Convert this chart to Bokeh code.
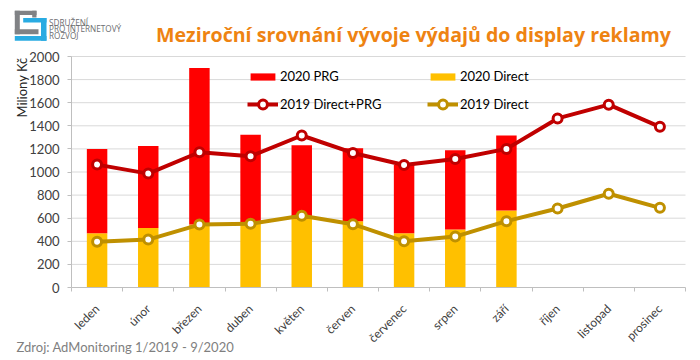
import math
from bokeh.plotting import figure
from bokeh.models import (Range1d, FixedTicker, Legend, LegendItem, Label, BoxAnnotation)
from bokeh.embed import file_html
from bokeh.resources import INLINE

# ---- data ----
months = ["leden", "únor", "březen", "duben", "květen", "červen", "červenec",
          "srpen", "září", "říjen", "listopad", "prosinec"]
direct_2020 = [470, 516, 545, 550, 595, 574, 470, 502, 667]
prg_2020 = [730, 710, 1355, 772, 637, 632, 591, 687, 649]
total_2019 = [1064, 986, 1171, 1137, 1316, 1165, 1061, 1113, 1200, 1464, 1583, 1391]
direct_2019 = [397, 415, 545, 551, 621, 548, 400, 441, 574, 684, 812, 690]
y_ticks = [0, 200, 400, 600, 800, 1000, 1200, 1400, 1600, 1800, 2000]

x_all = list(range(len(months)))
x_2020 = list(range(len(direct_2020)))
top_2020 = [d + p for d, p in zip(direct_2020, prg_2020)]

RED = "#FF0000"
YELLOW = "#FFC000"
DARKRED = "#C00000"
GOLD = "#BF9000"
AXIS = "#BFBFBF"
FONT = "Lato"

# ---- layout: the frame covers the whole canvas; axes are fixed inside it ----
W, H = 692, 356
PLOT_L, PLOT_R = 71, 685      # canvas px of the category axis ends
PLOT_T, PLOT_B = 56, 287      # canvas px of y = max and y = 0
n = len(months)
xmin, xmax = -0.5, n - 0.5
ymin, ymax = 0, 2000
ux = (PLOT_R - PLOT_L) / (xmax - xmin)
uy = (PLOT_B - PLOT_T) / (ymax - ymin)

p = figure(width=W, height=H, output_backend="svg", toolbar_location=None,
           x_range=Range1d(xmin - PLOT_L / ux, xmax + (W - PLOT_R) / ux),
           y_range=Range1d(ymin - (H - PLOT_B) / uy, ymax + PLOT_T / uy),
           min_border=0, min_border_left=0, min_border_right=0,
           min_border_top=0, min_border_bottom=0)
p.outline_line_color = None
p.background_fill_color = "white"
p.border_fill_color = "white"
p.grid.visible = False

# horizontal gridlines limited to the plot area
p.segment(x0=[xmin] * (len(y_ticks) - 1), x1=[xmax] * (len(y_ticks) - 1),
          y0=y_ticks[1:], y1=y_ticks[1:], line_color="#D9D9D9", line_width=1)

# y axis
p.yaxis.fixed_location = xmin
p.yaxis.bounds = (ymin, ymax)
p.yaxis.ticker = FixedTicker(ticks=y_ticks)
p.yaxis.axis_line_color = AXIS
p.yaxis.major_tick_line_color = AXIS
p.yaxis.major_tick_out = 4
p.yaxis.major_tick_in = 0
p.yaxis.minor_tick_line_color = None
p.yaxis.major_label_standoff = 8
p.yaxis.major_label_text_font = FONT
p.yaxis.major_label_text_font_size = "13px"
p.yaxis.major_label_text_color = "#404040"

# x axis
p.xaxis.fixed_location = ymin
p.xaxis.bounds = (xmin, xmax)
p.xaxis.ticker = FixedTicker(ticks=x_all, minor_ticks=[i - 0.5 for i in range(n + 1)])
p.xaxis.major_label_overrides = {i: m for i, m in enumerate(months)}
p.xaxis.axis_line_color = AXIS
p.xaxis.major_tick_line_color = None
p.xaxis.minor_tick_line_color = AXIS
p.xaxis.minor_tick_out = 4
p.xaxis.minor_tick_in = 0
p.xaxis.major_label_orientation = math.pi / 4
p.xaxis.major_label_standoff = 13
p.xaxis.major_label_text_font = FONT
p.xaxis.major_label_text_font_size = "12px"
p.xaxis.major_label_text_color = "#404040"

# bars
r_direct = p.vbar(x=x_2020, top=direct_2020, bottom=0, width=0.4, fill_color=YELLOW, line_color=None)
r_prg = p.vbar(x=x_2020, top=top_2020, bottom=direct_2020, width=0.4, fill_color=RED, line_color=None)

# lines
l_d = p.line(x_all, direct_2019, line_color=GOLD, line_width=4)
s_d = p.scatter(x_all, direct_2019, size=9, marker="circle", fill_color="white", line_color=GOLD, line_width=3)
l_t = p.line(x_all, total_2019, line_color=DARKRED, line_width=4)
s_t = p.scatter(x_all, total_2019, size=9, marker="circle", fill_color="white", line_color=DARKRED, line_width=3)


def mk_legend(items, loc, gh):
    return Legend(items=items, location=loc, orientation="horizontal",
                  padding=0, margin=0, spacing=0, label_standoff=2,
                  glyph_width=31, glyph_height=gh, label_width=147,
                  border_line_color=None, background_fill_alpha=0,
                  label_text_font=FONT, label_text_font_size="13px",
                  label_text_color="#000000")


leg1 = mk_legend([LegendItem(label="2020 PRG", renderers=[r_prg]),
                  LegendItem(label="2020 Direct", renderers=[r_direct])], (247, 272), 9)
leg2 = mk_legend([LegendItem(label="2019 Direct+PRG", renderers=[l_t, s_t]),
                  LegendItem(label="2019 Direct", renderers=[l_d, s_d])], (247, 241), 22)
p.add_layout(leg1, "center")
p.add_layout(leg2, "center")


# screen coords: sx = page_x - 1, sy = H + 1 - page_y
def sx(px):
    return px - 1


def sy(py):
    return H + 1 - py


p.add_layout(Label(x=sx(414), y=sy(35), x_units="screen", y_units="screen",
                   text="Meziroční srovnání vývoje výdajů do display reklamy",
                   text_align="center", text_baseline="alphabetic",
                   text_font="Open Sans", text_font_style="bold", text_font_size="19.6px",
                   text_color="#EE8312"))
p.add_layout(Label(x=sx(22), y=sy(88), x_units="screen", y_units="screen", text="Miliony Kč",
                   angle=math.pi / 2, text_align="center", text_baseline="middle",
                   text_font=FONT, text_font_size="13px", text_color="#262626"))
p.add_layout(Label(x=sx(17), y=sy(347), x_units="screen", y_units="screen",
                   text="Zdroj: AdMonitoring 1/2019 - 9/2020",
                   text_align="left", text_baseline="middle",
                   text_font=FONT, text_font_size="13px", text_color="#7F7F7F"))

# logo
for txt, py in [("SDRUŽENÍ", 22.7), ("PRO INTERNETOVÝ", 29.3), ("ROZVOJ", 36)]:
    p.add_layout(Label(x=sx(49.5), y=sy(py), x_units="screen", y_units="screen", text=txt,
                       text_align="left", text_baseline="middle",
                       text_font="Open Sans", text_font_size="8.2px", text_color="#6D6E71"))


def box(l, r, t, b, c):
    p.add_layout(BoxAnnotation(left=sx(l), right=sx(r), top=sy(t), bottom=sy(b),
                               left_units="screen", right_units="screen",
                               top_units="screen", bottom_units="screen",
                               fill_color=c, fill_alpha=1, line_color=None))


LG = "#808285"
LB = "#29ABE2"
box(15.3, 37, 11.3, 15.5, LG)
box(15.3, 20.3, 11.3, 34.7, LG)
box(15.3, 39, 29.7, 34.7, LG)
box(32.7, 37, 11.3, 18, LG)
box(23.7, 47, 18.5, 23, LB)
box(41.5, 47, 18.5, 41.3, LB)
box(15.3, 47, 36.5, 41.3, LB)

open("out.html", "w").write(file_html(p, INLINE))
